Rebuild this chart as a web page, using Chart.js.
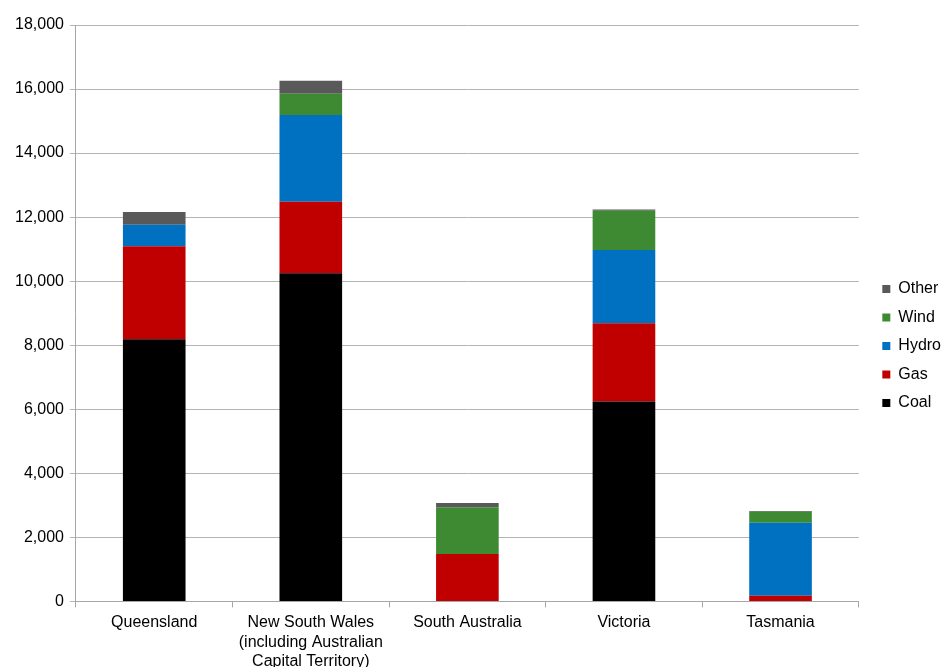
<!DOCTYPE html>
<html>
<head>
<meta charset="utf-8">
<script src="https://cdn.jsdelivr.net/npm/chart.js@4"></script>
<style>
    html, body { margin: 0; padding: 0; background: #fff; }
    #wrap { width: 943px; height: 667px; }
</style>
</head>
<body>
<div id="wrap"><canvas id="graficoEnergia"></canvas></div>
<script>
const estados = ['Queensland', ['New South Wales', '(including Australian', 'Capital Territory)'], 'South Australia', 'Victoria', 'Tasmania'];

const coal  = [8190, 10250, 0, 6240, 0];
const gas   = [2900, 2230, 1480, 2450, 180];
const hydro = [670, 2710, 0, 2280, 2280];
const wind  = [0, 660, 1460, 1230, 340];
const other = [400, 410, 130, 40, 20];

const yTicks = [0, 2000, 4000, 6000, 8000, 10000, 12000, 14000, 16000, 18000];

Chart.defaults.font.family = '"Liberation Sans", Arial, sans-serif';
Chart.defaults.font.size = 16;
Chart.defaults.color = '#000';

// empurra a legenda para a direita e um pouco para cima
const ajusteLegenda = {
    id: 'ajusteLegenda',
    afterLayout(chart) {
        chart.legend.left += 11;
        chart.legend.right += 11;
        chart.legend.top -= 5;
        chart.legend.bottom -= 5;
    }
};

new Chart(document.getElementById('graficoEnergia'), {
    type: 'bar',
    data: {
        labels: estados,
        datasets: [
            { label: 'Coal', data: coal, backgroundColor: '#000000' },
            { label: 'Gas', data: gas, backgroundColor: '#c00000' },
            { label: 'Hydro', data: hydro, backgroundColor: '#0070c0' },
            { label: 'Wind', data: wind, backgroundColor: '#3e8a32' },
            { label: 'Other', data: other, backgroundColor: '#595959' }
        ]
    },
    options: {
        responsive: true,
        maintainAspectRatio: false,
        animation: false,
        datasets: {
            bar: { barPercentage: 0.4, categoryPercentage: 1.0 }
        },
        layout: {
            padding: { top: 25, left: 9, right: 3, bottom: -10 }
        },
        plugins: {
            legend: {
                position: 'right',
                reverse: true,
                labels: {
                    boxWidth: 8,
                    boxHeight: 8,
                    padding: 12.5,
                    color: '#000'
                }
            },
            tooltip: { enabled: false }
        },
        scales: {
            x: {
                stacked: true,
                grid: {
                    drawOnChartArea: false,
                    color: '#a6a6a6',
                    tickLength: 6
                },
                border: { color: '#a6a6a6' },
                ticks: { padding: 6, maxRotation: 0, autoSkip: false }
            },
            y: {
                stacked: true,
                min: 0,
                max: 18000,
                afterBuildTicks(axis) {
                    axis.ticks = yTicks.map(v => ({ value: v }));
                },
                grid: {
                    color: '#b4b4b4',
                    tickLength: 6
                },
                border: { color: '#a6a6a6' },
                ticks: {
                    padding: 6,
                    callback: v => v.toLocaleString('en-US')
                }
            }
        }
    },
    plugins: [ajusteLegenda]
});
</script>
</body>
</html>
